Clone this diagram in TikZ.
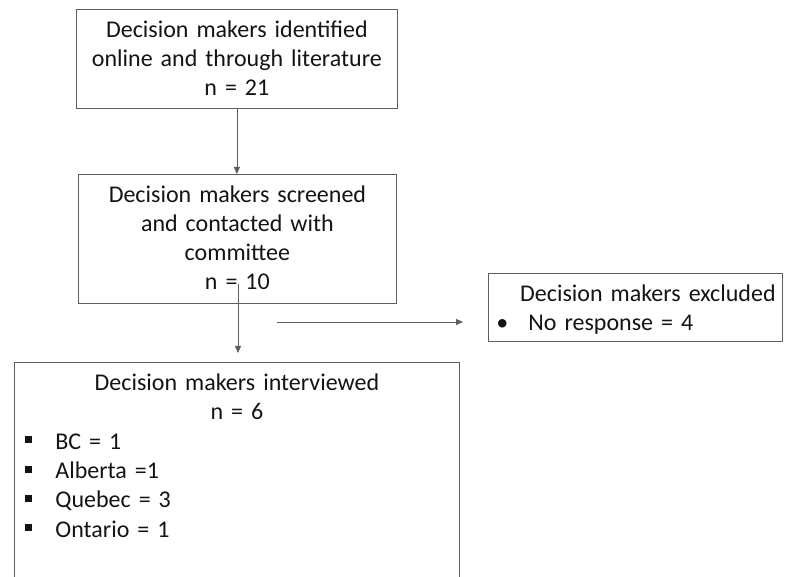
\documentclass[tikz,border=0pt]{standalone}
\usepackage{fontspec}
\setmainfont{Carlito}
\usetikzlibrary{arrows.meta}
\setlength{\parindent}{0pt}
\definecolor{linegray}{HTML}{5E5E5E}
\definecolor{textblack}{HTML}{141414}
\tikzset{
	flowbox/.style = {draw = linegray, line width = 0.8pt, anchor = north west, inner xsep = 4pt, inner ysep = 10pt, text height = 18pt, align = center, text = textblack, font = \fontsize{24}{29}\selectfont},
	flowarrow/.style = {draw = linegray, line width = 0.8pt, -{Triangle[length=7pt,width=6pt]}}
}
\newcommand{\sqitem}[1]{\par\makebox[37pt][l]{\hspace*{7pt}\rule[6pt]{7pt}{7pt}}#1}

\begin{document}
\begin{tikzpicture}[x = 1pt, y = -1pt]
		\useasboundingbox (0,0) rectangle (796,577);
		\clip (0,0) rectangle (796,577);
		% boxes
		\node[flowbox, text width = 313pt, text depth = 61pt] (ident) at (76,9) {Decision makers identified\par online and through literature\par n = 21};
		\node[flowbox, text width = 310pt, text depth = 91pt] (screen) at (78,174) {Decision makers screened\par and contacted with\par committee\par n = 10};
		\node[flowbox, text width = 286pt, text depth = 30pt] (excl) at (488,273) {\hspace*{25pt}Decision makers excluded\par\raggedright\makebox[36pt][l]{\hspace*{4pt}\textbullet}No response = 4\par};
		\node[flowbox, text width = 437pt, text depth = 260pt, font = \fontsize{24}{29.4}\selectfont] (inter) at (14,362) {Decision makers interviewed\par n = 6\par\raggedright\sqitem{BC = 1}\sqitem{Alberta =1}\sqitem{Quebec = 3}\sqitem{Ontario = 1}\par};
		% arrows
		\coordinate (split) at (238,284);
		\coordinate (branch) at (277,322);
		\draw[flowarrow] (ident.south) -- (ident.south |- screen.north);
		\draw[flowarrow, shorten >= 9pt] (split) -- (split |- inter.north);
		\draw[flowarrow, shorten >= 25pt] (branch) -- (branch -| excl.west);
\end{tikzpicture}
\end{document}
